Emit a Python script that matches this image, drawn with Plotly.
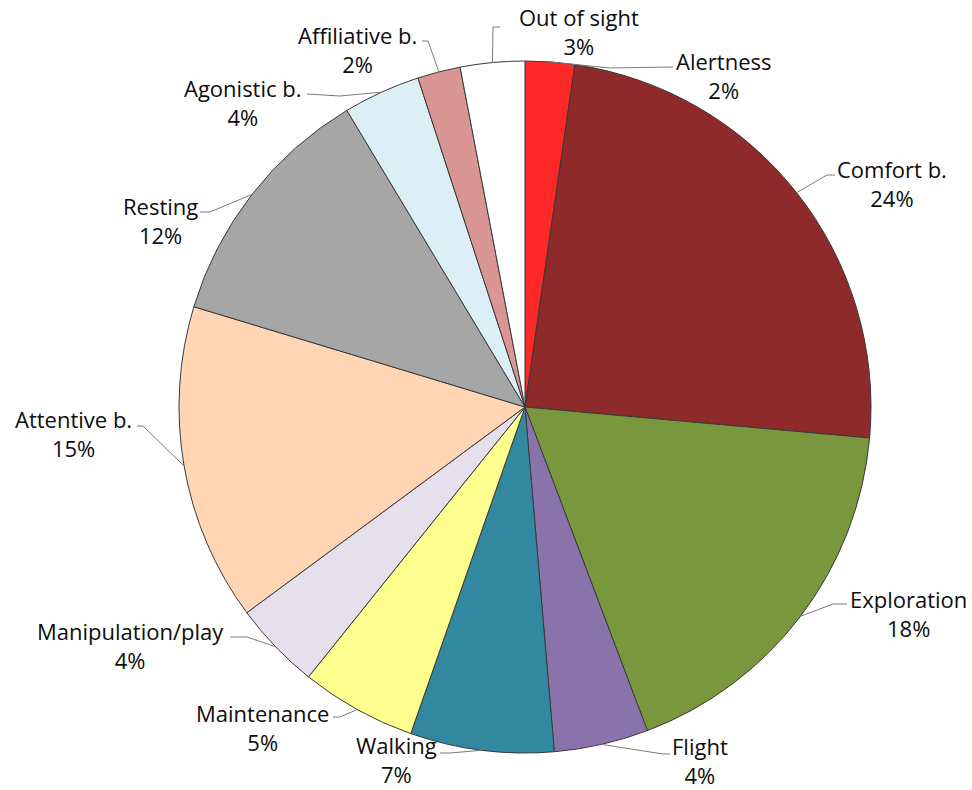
import math
import plotly.graph_objects as go

labels = ["Alertness", "Comfort b.", "Exploration", "Flight", "Walking", "Maintenance",
          "Manipulation/play", "Attentive b.", "Resting", "Agonistic b.", "Affiliative b.",
          "Out of sight"]
values = [2.3, 24.1, 17.8, 4.4, 6.7, 5.4, 4.1, 14.8, 11.7, 3.6, 2.0, 3.0]
pct_labels = ["2%", "24%", "18%", "4%", "7%", "5%", "4%", "15%", "12%", "4%", "2%", "3%"]
colors = ["#FE2828", "#8E2A2A", "#79973D", "#8A72AA", "#31889F", "#FFFF8F",
          "#E6E0EC", "#FFD5B4", "#A6A6A6", "#DDEFF6", "#D99694", "#FFFFFF"]

# label block centres and leader-line elbows/ends (pixels from top-left)
label_pos = [(723, 75), (892, 183), (908, 613), (700, 760), (396, 759), (262, 727),
             (130, 645), (73, 433), (160, 221), (243, 102), (357, 49), (579, 32)]
leader_elbow = [(610, 68), (827, 175), (833, 604), (663, 754), (450, 753), (340, 717),
                (247, 637), (143, 426), (210, 212), (340, 96), (428, 41), (493, 27)]
leader_end = [(673, 67), (835, 175), (847, 604), (670, 754), (440, 753), (333, 717),
              (230, 637), (137, 426), (200, 212), (307, 94), (422, 41), (500, 27)]

W, H = 972, 790
CX, CY, R = 525, 407, 346


def px(x):
    return x / W


def py(y):
    return 1 - y / H


fig = go.Figure(go.Pie(
    labels=labels,
    values=values,
    textinfo="none",
    sort=False,
    direction="clockwise",
    rotation=0,
    marker=dict(colors=colors, line=dict(color="#3a3a3a", width=1)),
    domain=dict(x=[px(CX - R), px(CX + R)], y=[py(CY + R), py(CY - R)]),
    automargin=False,
    showlegend=False,
    hoverinfo="label+percent",
))

total = sum(values)
cum = 0.0
shapes = []
annotations = []
font = dict(family="Open Sans, sans-serif", size=22, color="#0d0d0d")
for i, v in enumerate(values):
    mid = (cum + v / 2) / total * 2 * math.pi
    cum += v
    sx = CX + R * math.sin(mid)
    sy = CY - R * math.cos(mid)
    ex, ey = leader_elbow[i]
    tx, ty = leader_end[i]
    path = (f"M {px(sx)},{py(sy)} L {px(ex)},{py(ey)} L {px(tx)},{py(ty)}")
    shapes.append(dict(type="path", xref="paper", yref="paper", path=path,
                       line=dict(color="#7a7a7a", width=1)))
    lx, ly = label_pos[i]
    annotations.append(dict(
        x=px(lx), y=py(ly), xref="paper", yref="paper",
        text=f"{labels[i]}<br>{pct_labels[i]}",
        showarrow=False, xanchor="center", yanchor="middle",
        align="center", font=font,
    ))

fig.update_layout(
    width=W, height=H,
    margin=dict(l=0, r=0, t=0, b=0),
    paper_bgcolor="white",
    plot_bgcolor="white",
    showlegend=False,
    shapes=shapes,
    annotations=annotations,
)

fig.write_html("out.html",
               config={"displayModeBar": False},
               post_script="document.body.style.margin='0px';"
                           "document.body.style.overflow='hidden';")
